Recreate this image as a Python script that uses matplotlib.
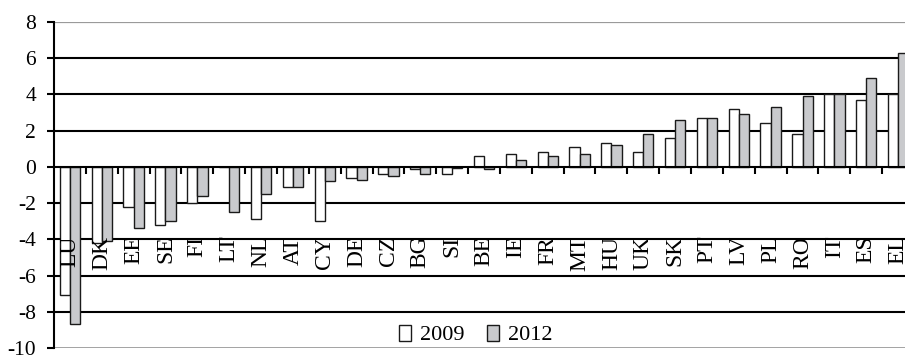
import numpy as np
import matplotlib.pyplot as plt
from matplotlib.patches import Patch

countries = ['LU', 'DK', 'EE', 'SE', 'FI', 'LT', 'NL', 'AT', 'CY', 'DE', 'CZ', 'BG', 'SI', 'BE',
             'IE', 'FR', 'MT', 'HU', 'UK', 'SK', 'PT', 'LV', 'PL', 'RO', 'IT', 'ES', 'EL']
v2009 = [-7.1, -4.2, -2.2, -3.2, -2.0, 0.0, -2.9, -1.1, -3.0, -0.6, -0.4, -0.1, -0.4, 0.6,
         0.7, 0.8, 1.1, 1.3, 0.8, 1.6, 2.7, 3.2, 2.4, 1.8, 4.0, 3.7, 4.0]
v2012 = [-8.7, -4.1, -3.4, -3.0, -1.6, -2.5, -1.5, -1.1, -0.8, -0.7, -0.5, -0.4, -0.05, -0.1,
         0.4, 0.6, 0.7, 1.2, 1.8, 2.6, 2.7, 2.9, 3.3, 3.9, 4.0, 4.9, 6.3]
yticks = [-10, -8, -6, -4, -2, 0, 2, 4, 6, 8]

plt.rcParams['font.family'] = ['Liberation Serif', 'DejaVu Serif']

fig = plt.figure(figsize=(9.05, 3.55), dpi=100)
# plot area runs a little past the right edge of the figure
ax = fig.add_axes([54 / 905, 7 / 355, 860 / 905, 326 / 355])

x = np.arange(len(countries)) + 0.5
w = 0.32
gray = '#c9cacd'

for g in [-8, -6, -4, -2, 2, 4, 6]:
    ax.axhline(g, color='black', lw=1.5, zorder=1)
ax.axhline(8, color='#9a9a9a', lw=1.6, zorder=1)
ax.axhline(-10, color='#9a9a9a', lw=2.0, zorder=1)

ax.bar(x - w / 2, v2009, width=w, color='white', edgecolor='#1a1a1a', lw=1.0, zorder=2)
ax.bar(x + w / 2, v2012, width=w, color=gray, edgecolor='#1a1a1a', lw=1.0, zorder=2)

for xi, name in zip(x, countries):
    ax.text(xi, -3.8, name, rotation=90, ha='center', va='top', fontsize=17, zorder=3)

ax.set_xlim(0, len(countries))
ax.set_ylim(-10, 8)
ax.set_yticks(yticks)
ax.set_yticklabels([str(t) for t in yticks], fontsize=15.5)
ax.set_xticks(np.arange(1, len(countries)))
ax.set_xticklabels([])

ax.spines['bottom'].set_position(('data', 0))
ax.spines['bottom'].set_linewidth(1.5)
ax.spines['bottom'].set_zorder(4)
ax.spines['left'].set_linewidth(1.5)
ax.spines['top'].set_visible(False)
ax.spines['right'].set_visible(False)
ax.tick_params(axis='x', direction='out', length=5, width=1.5)
ax.tick_params(axis='y', direction='out', length=5, width=1.5, pad=8)

handles = [Patch(facecolor='white', edgecolor='#1a1a1a', lw=1.0, label='2009'),
           Patch(facecolor=gray, edgecolor='#1a1a1a', lw=1.0, label='2012')]
leg = ax.legend(handles=handles, ncol=2, frameon=False, fontsize=16,
                handlelength=0.55, handleheight=0.75, handletextpad=0.4, columnspacing=1.0,
                loc='center', bbox_to_anchor=(0.49, 0.04))

fig.savefig('out.png', dpi=100)
